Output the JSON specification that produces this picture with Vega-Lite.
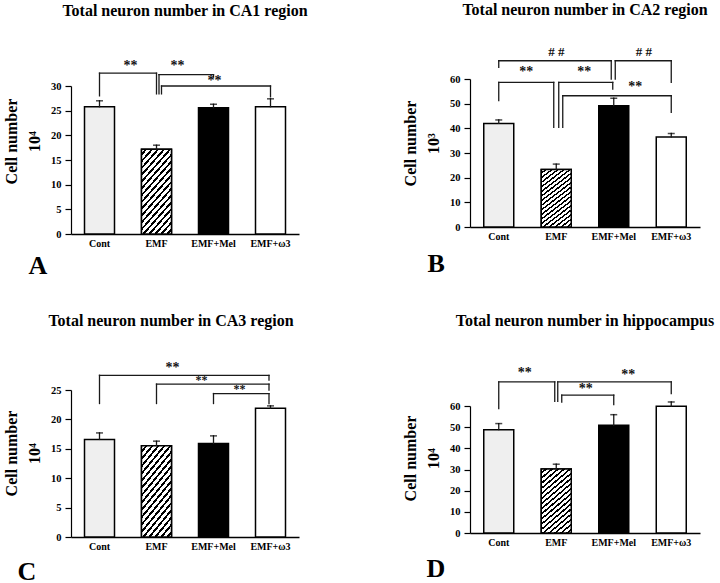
{
  "$schema": "https://vega.github.io/schema/vega-lite/v6.json",
  "padding": {"left": 3, "top": 2, "right": 2, "bottom": 0},
  "bounds": "full",
  "center": true,
  "spacing": 94,
  "hconcat": [
    {
      "bounds": "flush",
      "spacing": 156,
      "vconcat": [
        {
          "width": 228, "height": 148,
          "title": {"text": "Total neuron number in CA1 region", "offset": 40},
          "layer": [
            {
              "data": {"values": [
                {"g": "Cont", "v": 25.8, "hi": 27.0},
                {"g": "EMF", "v": 17.2, "hi": 18.0},
                {"g": "EMF+Mel", "v": 25.6, "hi": 26.3},
                {"g": "EMF+ω3", "v": 25.8, "hi": 27.4}
              ]},
              "layer": [
                {"mark": {"type": "bar", "size": 30, "stroke": "#000", "strokeWidth": 1.5},
                 "encoding": {
                   "x": {"field": "g", "type": "nominal", "scale": {"domain": ["Cont", "EMF", "EMF+Mel", "EMF+ω3"], "paddingInner": 0.48, "paddingOuter": 0.24}, "axis": {"title": "A", "titleX": -43, "titleY": 39}},
                   "y": {"field": "v", "type": "quantitative", "scale": {"domain": [0, 30], "nice": false}, "axis": {"title": ["Cell number", "10⁴"], "values": [0, 5, 10, 15, 20, 25, 30], "tickCount": 7, "titleY": 55}},
                   "fill": {"field": "g", "type": "nominal", "scale": {"domain": ["Cont", "EMF", "EMF+Mel", "EMF+ω3"], "range": ["#efefef", "#ffffff", "#000000", "#ffffff"]}, "legend": null}
                 }},
                {"transform": [{"filter": "datum.g === 'EMF'"}],
                 "mark": {"type": "bar", "size": 30, "stroke": "#000", "strokeWidth": 1.5,
                   "fill": {"gradient": "linear", "x1": 0, "y1": 0, "x2": 0.552, "y2": 1.38, "stops": [
                     {"offset": 0, "color": "#fff"}, {"offset": 0.03, "color": "#fff"}, {"offset": 0.03, "color": "#000"}, {"offset": 0.05, "color": "#000"},
                     {"offset": 0.05, "color": "#fff"}, {"offset": 0.08, "color": "#fff"}, {"offset": 0.08, "color": "#000"}, {"offset": 0.10, "color": "#000"},
                     {"offset": 0.10, "color": "#fff"}, {"offset": 0.13, "color": "#fff"}, {"offset": 0.13, "color": "#000"}, {"offset": 0.15, "color": "#000"},
                     {"offset": 0.15, "color": "#fff"}, {"offset": 0.18, "color": "#fff"}, {"offset": 0.18, "color": "#000"}, {"offset": 0.20, "color": "#000"},
                     {"offset": 0.20, "color": "#fff"}, {"offset": 0.23, "color": "#fff"}, {"offset": 0.23, "color": "#000"}, {"offset": 0.25, "color": "#000"},
                     {"offset": 0.25, "color": "#fff"}, {"offset": 0.28, "color": "#fff"}, {"offset": 0.28, "color": "#000"}, {"offset": 0.30, "color": "#000"},
                     {"offset": 0.30, "color": "#fff"}, {"offset": 0.33, "color": "#fff"}, {"offset": 0.33, "color": "#000"}, {"offset": 0.35, "color": "#000"},
                     {"offset": 0.35, "color": "#fff"}, {"offset": 0.38, "color": "#fff"}, {"offset": 0.38, "color": "#000"}, {"offset": 0.40, "color": "#000"},
                     {"offset": 0.40, "color": "#fff"}, {"offset": 0.43, "color": "#fff"}, {"offset": 0.43, "color": "#000"}, {"offset": 0.45, "color": "#000"},
                     {"offset": 0.45, "color": "#fff"}, {"offset": 0.48, "color": "#fff"}, {"offset": 0.48, "color": "#000"}, {"offset": 0.50, "color": "#000"},
                     {"offset": 0.50, "color": "#fff"}, {"offset": 0.53, "color": "#fff"}, {"offset": 0.53, "color": "#000"}, {"offset": 0.55, "color": "#000"},
                     {"offset": 0.55, "color": "#fff"}, {"offset": 0.58, "color": "#fff"}, {"offset": 0.58, "color": "#000"}, {"offset": 0.60, "color": "#000"},
                     {"offset": 0.60, "color": "#fff"}, {"offset": 0.63, "color": "#fff"}, {"offset": 0.63, "color": "#000"}, {"offset": 0.65, "color": "#000"},
                     {"offset": 0.65, "color": "#fff"}, {"offset": 0.68, "color": "#fff"}, {"offset": 0.68, "color": "#000"}, {"offset": 0.70, "color": "#000"},
                     {"offset": 0.70, "color": "#fff"}, {"offset": 0.73, "color": "#fff"}, {"offset": 0.73, "color": "#000"}, {"offset": 0.75, "color": "#000"},
                     {"offset": 0.75, "color": "#fff"}, {"offset": 0.78, "color": "#fff"}, {"offset": 0.78, "color": "#000"}, {"offset": 0.80, "color": "#000"},
                     {"offset": 0.80, "color": "#fff"}, {"offset": 0.83, "color": "#fff"}, {"offset": 0.83, "color": "#000"}, {"offset": 0.85, "color": "#000"},
                     {"offset": 0.85, "color": "#fff"}, {"offset": 0.88, "color": "#fff"}, {"offset": 0.88, "color": "#000"}, {"offset": 0.90, "color": "#000"},
                     {"offset": 0.90, "color": "#fff"}, {"offset": 0.93, "color": "#fff"}, {"offset": 0.93, "color": "#000"}, {"offset": 0.95, "color": "#000"},
                     {"offset": 0.95, "color": "#fff"}, {"offset": 0.98, "color": "#fff"}, {"offset": 0.98, "color": "#000"}, {"offset": 1, "color": "#000"}]}},
                 "encoding": {"x": {"field": "g", "type": "nominal"}, "y": {"field": "v", "type": "quantitative"}}},
                {"mark": "rule", "encoding": {"x": {"field": "g", "type": "nominal"}, "y": {"field": "v", "type": "quantitative"}, "y2": {"field": "hi"}}},
                {"mark": {"type": "tick", "size": 7, "thickness": 1.5, "color": "#000"}, "encoding": {"x": {"field": "g", "type": "nominal"}, "y": {"field": "hi", "type": "quantitative"}}}
              ]
            },
            {"data": {"values": [{"a": "Cont", "b": "EMF", "y": 32.6, "la": 28.0, "lb": 28.4, "t": "**", "sy": 34.1}]},
             "layer": [
               {"mark": {"type": "rule"}, "encoding": {"x": {"field": "a", "type": "nominal"}, "y": {"field": "la", "type": "quantitative"}, "y2": {"field": "y"}}},
               {"mark": {"type": "rule"}, "encoding": {"x": {"field": "a", "type": "nominal"}, "x2": {"field": "b"}, "y": {"field": "y", "type": "quantitative"}}},
               {"mark": {"type": "rule"}, "encoding": {"x": {"field": "b", "type": "nominal"}, "y": {"field": "lb", "type": "quantitative"}, "y2": {"field": "y"}}},
               {"mark": {"type": "text", "dx": 31}, "encoding": {"x": {"field": "a", "type": "nominal"}, "y": {"field": "sy", "type": "quantitative"}, "text": {"field": "t"}}}
             ]},
            {"data": {"values": [{"a": "EMF", "b": "EMF+Mel", "y": 32.3, "la": 28.4, "lb": 31.8, "t": "**", "sy": 34.1}]},
             "layer": [
               {"mark": {"type": "rule", "xOffset": 2.5}, "encoding": {"x": {"field": "a", "type": "nominal"}, "y": {"field": "la", "type": "quantitative"}, "y2": {"field": "y"}}},
               {"mark": {"type": "rule", "xOffset": 2.5}, "encoding": {"x": {"field": "a", "type": "nominal"}, "x2": {"field": "b"}, "y": {"field": "y", "type": "quantitative"}}},
               {"mark": {"type": "rule"}, "encoding": {"x": {"field": "b", "type": "nominal"}, "y": {"field": "lb", "type": "quantitative"}, "y2": {"field": "y"}}},
               {"mark": {"type": "text", "dx": 21}, "encoding": {"x": {"field": "a", "type": "nominal"}, "y": {"field": "sy", "type": "quantitative"}, "text": {"field": "t"}}}
             ]},
            {"data": {"values": [{"a": "EMF", "b": "EMF+ω3", "y": 30.0, "la": 28.4, "lb": 27.8, "t": "**", "sy": 31.0}]},
             "layer": [
               {"mark": {"type": "rule", "xOffset": 5}, "encoding": {"x": {"field": "a", "type": "nominal"}, "y": {"field": "la", "type": "quantitative"}, "y2": {"field": "y"}}},
               {"mark": {"type": "rule", "xOffset": 5}, "encoding": {"x": {"field": "a", "type": "nominal"}, "x2": {"field": "b"}, "y": {"field": "y", "type": "quantitative"}}},
               {"mark": {"type": "rule"}, "encoding": {"x": {"field": "b", "type": "nominal"}, "y": {"field": "lb", "type": "quantitative"}, "y2": {"field": "y"}}},
               {"mark": {"type": "text", "dx": 58}, "encoding": {"x": {"field": "a", "type": "nominal"}, "y": {"field": "sy", "type": "quantitative"}, "text": {"field": "t"}}}
             ]}
          ]
        },
        {
          "width": 228, "height": 147,
          "title": {"text": "Total neuron number in CA3 region", "offset": 32, "dx": -14},
          "layer": [
            {
              "data": {"values": [
                {"g": "Cont", "v": 16.6, "hi": 17.7},
                {"g": "EMF", "v": 15.5, "hi": 16.3},
                {"g": "EMF+Mel", "v": 15.9, "hi": 17.2},
                {"g": "EMF+ω3", "v": 21.9, "hi": 22.3}
              ]},
              "layer": [
                {"mark": {"type": "bar", "size": 30, "stroke": "#000", "strokeWidth": 1.5},
                 "encoding": {
                   "x": {"field": "g", "type": "nominal", "scale": {"domain": ["Cont", "EMF", "EMF+Mel", "EMF+ω3"], "paddingInner": 0.48, "paddingOuter": 0.24}, "axis": {"title": "C", "titleX": -54, "titleY": 42}},
                   "y": {"field": "v", "type": "quantitative", "scale": {"domain": [0, 25], "nice": false}, "axis": {"title": ["Cell number", "10⁴"], "values": [0, 5, 10, 15, 20, 25], "tickCount": 6, "titleY": 63}},
                   "fill": {"field": "g", "type": "nominal", "scale": {"domain": ["Cont", "EMF", "EMF+Mel", "EMF+ω3"], "range": ["#efefef", "#ffffff", "#000000", "#ffffff"]}, "legend": null}
                 }},
                {"transform": [{"filter": "datum.g === 'EMF'"}],
                 "mark": {"type": "bar", "size": 30, "stroke": "#000", "strokeWidth": 1.5,
                   "fill": {"gradient": "linear", "x1": 0, "y1": 0, "x2": 0.552, "y2": 1.38, "stops": [
                     {"offset": 0, "color": "#fff"}, {"offset": 0.03, "color": "#fff"}, {"offset": 0.03, "color": "#000"}, {"offset": 0.05, "color": "#000"},
                     {"offset": 0.05, "color": "#fff"}, {"offset": 0.08, "color": "#fff"}, {"offset": 0.08, "color": "#000"}, {"offset": 0.10, "color": "#000"},
                     {"offset": 0.10, "color": "#fff"}, {"offset": 0.13, "color": "#fff"}, {"offset": 0.13, "color": "#000"}, {"offset": 0.15, "color": "#000"},
                     {"offset": 0.15, "color": "#fff"}, {"offset": 0.18, "color": "#fff"}, {"offset": 0.18, "color": "#000"}, {"offset": 0.20, "color": "#000"},
                     {"offset": 0.20, "color": "#fff"}, {"offset": 0.23, "color": "#fff"}, {"offset": 0.23, "color": "#000"}, {"offset": 0.25, "color": "#000"},
                     {"offset": 0.25, "color": "#fff"}, {"offset": 0.28, "color": "#fff"}, {"offset": 0.28, "color": "#000"}, {"offset": 0.30, "color": "#000"},
                     {"offset": 0.30, "color": "#fff"}, {"offset": 0.33, "color": "#fff"}, {"offset": 0.33, "color": "#000"}, {"offset": 0.35, "color": "#000"},
                     {"offset": 0.35, "color": "#fff"}, {"offset": 0.38, "color": "#fff"}, {"offset": 0.38, "color": "#000"}, {"offset": 0.40, "color": "#000"},
                     {"offset": 0.40, "color": "#fff"}, {"offset": 0.43, "color": "#fff"}, {"offset": 0.43, "color": "#000"}, {"offset": 0.45, "color": "#000"},
                     {"offset": 0.45, "color": "#fff"}, {"offset": 0.48, "color": "#fff"}, {"offset": 0.48, "color": "#000"}, {"offset": 0.50, "color": "#000"},
                     {"offset": 0.50, "color": "#fff"}, {"offset": 0.53, "color": "#fff"}, {"offset": 0.53, "color": "#000"}, {"offset": 0.55, "color": "#000"},
                     {"offset": 0.55, "color": "#fff"}, {"offset": 0.58, "color": "#fff"}, {"offset": 0.58, "color": "#000"}, {"offset": 0.60, "color": "#000"},
                     {"offset": 0.60, "color": "#fff"}, {"offset": 0.63, "color": "#fff"}, {"offset": 0.63, "color": "#000"}, {"offset": 0.65, "color": "#000"},
                     {"offset": 0.65, "color": "#fff"}, {"offset": 0.68, "color": "#fff"}, {"offset": 0.68, "color": "#000"}, {"offset": 0.70, "color": "#000"},
                     {"offset": 0.70, "color": "#fff"}, {"offset": 0.73, "color": "#fff"}, {"offset": 0.73, "color": "#000"}, {"offset": 0.75, "color": "#000"},
                     {"offset": 0.75, "color": "#fff"}, {"offset": 0.78, "color": "#fff"}, {"offset": 0.78, "color": "#000"}, {"offset": 0.80, "color": "#000"},
                     {"offset": 0.80, "color": "#fff"}, {"offset": 0.83, "color": "#fff"}, {"offset": 0.83, "color": "#000"}, {"offset": 0.85, "color": "#000"},
                     {"offset": 0.85, "color": "#fff"}, {"offset": 0.88, "color": "#fff"}, {"offset": 0.88, "color": "#000"}, {"offset": 0.90, "color": "#000"},
                     {"offset": 0.90, "color": "#fff"}, {"offset": 0.93, "color": "#fff"}, {"offset": 0.93, "color": "#000"}, {"offset": 0.95, "color": "#000"},
                     {"offset": 0.95, "color": "#fff"}, {"offset": 0.98, "color": "#fff"}, {"offset": 0.98, "color": "#000"}, {"offset": 1, "color": "#000"}]}},
                 "encoding": {"x": {"field": "g", "type": "nominal"}, "y": {"field": "v", "type": "quantitative"}}},
                {"mark": "rule", "encoding": {"x": {"field": "g", "type": "nominal"}, "y": {"field": "v", "type": "quantitative"}, "y2": {"field": "hi"}}},
                {"mark": {"type": "tick", "size": 7, "thickness": 1.5, "color": "#000"}, "encoding": {"x": {"field": "g", "type": "nominal"}, "y": {"field": "hi", "type": "quantitative"}}}
              ]
            },
            {"data": {"values": [{"a": "Cont", "b": "EMF+ω3", "y": 27.5, "la": 22.7, "lb": 26.7, "t": "**", "sy": 28.8}]},
             "layer": [
               {"mark": {"type": "rule"}, "encoding": {"x": {"field": "a", "type": "nominal"}, "y": {"field": "la", "type": "quantitative"}, "y2": {"field": "y"}}},
               {"mark": {"type": "rule", "x2Offset": -1.5}, "encoding": {"x": {"field": "a", "type": "nominal"}, "x2": {"field": "b"}, "y": {"field": "y", "type": "quantitative"}}},
               {"mark": {"type": "rule", "xOffset": -1.5}, "encoding": {"x": {"field": "b", "type": "nominal"}, "y": {"field": "lb", "type": "quantitative"}, "y2": {"field": "y"}}},
               {"mark": {"type": "text", "dx": 73}, "encoding": {"x": {"field": "a", "type": "nominal"}, "y": {"field": "sy", "type": "quantitative"}, "text": {"field": "t"}}}
             ]},
            {"data": {"values": [{"a": "EMF", "b": "EMF+ω3", "y": 26.0, "la": 22.7, "lb": 25.0, "t": "**", "sy": 26.7}]},
             "layer": [
               {"mark": {"type": "rule"}, "encoding": {"x": {"field": "a", "type": "nominal"}, "y": {"field": "la", "type": "quantitative"}, "y2": {"field": "y"}}},
               {"mark": {"type": "rule", "x2Offset": -1.5}, "encoding": {"x": {"field": "a", "type": "nominal"}, "x2": {"field": "b"}, "y": {"field": "y", "type": "quantitative"}}},
               {"mark": {"type": "rule", "xOffset": -1.5}, "encoding": {"x": {"field": "b", "type": "nominal"}, "y": {"field": "lb", "type": "quantitative"}, "y2": {"field": "y"}}},
               {"mark": {"type": "text", "dx": 45, "fontSize": 12}, "encoding": {"x": {"field": "a", "type": "nominal"}, "y": {"field": "sy", "type": "quantitative"}, "text": {"field": "t"}}}
             ]},
            {"data": {"values": [{"a": "EMF+Mel", "b": "EMF+ω3", "y": 24.4, "la": 22.7, "lb": 22.7, "t": "**", "sy": 25.2}]},
             "layer": [
               {"mark": {"type": "rule"}, "encoding": {"x": {"field": "a", "type": "nominal"}, "y": {"field": "la", "type": "quantitative"}, "y2": {"field": "y"}}},
               {"mark": {"type": "rule", "x2Offset": -1.5}, "encoding": {"x": {"field": "a", "type": "nominal"}, "x2": {"field": "b"}, "y": {"field": "y", "type": "quantitative"}}},
               {"mark": {"type": "rule", "xOffset": -1.5}, "encoding": {"x": {"field": "b", "type": "nominal"}, "y": {"field": "lb", "type": "quantitative"}, "y2": {"field": "y"}}},
               {"mark": {"type": "text", "dx": 26, "fontSize": 12}, "encoding": {"x": {"field": "a", "type": "nominal"}, "y": {"field": "sy", "type": "quantitative"}, "text": {"field": "t"}}}
             ]}
          ]
        }
      ]
    },
    {
      "bounds": "flush",
      "spacing": 179,
      "vconcat": [
        {
          "width": 230, "height": 148,
          "title": {"text": "Total neuron number in CA2 region", "offset": 28},
          "layer": [
            {
              "data": {"values": [
                {"g": "Cont", "v": 42.0, "hi": 43.4},
                {"g": "EMF", "v": 23.3, "hi": 25.5},
                {"g": "EMF+Mel", "v": 49.2, "hi": 52.2},
                {"g": "EMF+ω3", "v": 36.5, "hi": 37.9}
              ]},
              "layer": [
                {"mark": {"type": "bar", "size": 30, "stroke": "#000", "strokeWidth": 1.5},
                 "encoding": {
                   "x": {"field": "g", "type": "nominal", "scale": {"domain": ["Cont", "EMF", "EMF+Mel", "EMF+ω3"], "paddingInner": 0.48, "paddingOuter": 0.24}, "axis": {"title": "B", "titleX": -43, "titleY": 44}},
                   "y": {"field": "v", "type": "quantitative", "scale": {"domain": [0, 60], "nice": false}, "axis": {"title": ["Cell number", "10³"], "values": [0, 10, 20, 30, 40, 50, 60], "tickCount": 7, "titleY": 64}},
                   "fill": {"field": "g", "type": "nominal", "scale": {"domain": ["Cont", "EMF", "EMF+Mel", "EMF+ω3"], "range": ["#efefef", "#ffffff", "#000000", "#ffffff"]}, "legend": null}
                 }},
                {"transform": [{"filter": "datum.g === 'EMF'"}],
                 "mark": {"type": "bar", "size": 30, "stroke": "#000", "strokeWidth": 1.5,
                   "fill": {"gradient": "linear", "x1": 0, "y1": 0, "x2": 0.552, "y2": 1.38, "stops": [
                     {"offset": 0, "color": "#fff"}, {"offset": 0.03, "color": "#fff"}, {"offset": 0.03, "color": "#000"}, {"offset": 0.05, "color": "#000"},
                     {"offset": 0.05, "color": "#fff"}, {"offset": 0.08, "color": "#fff"}, {"offset": 0.08, "color": "#000"}, {"offset": 0.10, "color": "#000"},
                     {"offset": 0.10, "color": "#fff"}, {"offset": 0.13, "color": "#fff"}, {"offset": 0.13, "color": "#000"}, {"offset": 0.15, "color": "#000"},
                     {"offset": 0.15, "color": "#fff"}, {"offset": 0.18, "color": "#fff"}, {"offset": 0.18, "color": "#000"}, {"offset": 0.20, "color": "#000"},
                     {"offset": 0.20, "color": "#fff"}, {"offset": 0.23, "color": "#fff"}, {"offset": 0.23, "color": "#000"}, {"offset": 0.25, "color": "#000"},
                     {"offset": 0.25, "color": "#fff"}, {"offset": 0.28, "color": "#fff"}, {"offset": 0.28, "color": "#000"}, {"offset": 0.30, "color": "#000"},
                     {"offset": 0.30, "color": "#fff"}, {"offset": 0.33, "color": "#fff"}, {"offset": 0.33, "color": "#000"}, {"offset": 0.35, "color": "#000"},
                     {"offset": 0.35, "color": "#fff"}, {"offset": 0.38, "color": "#fff"}, {"offset": 0.38, "color": "#000"}, {"offset": 0.40, "color": "#000"},
                     {"offset": 0.40, "color": "#fff"}, {"offset": 0.43, "color": "#fff"}, {"offset": 0.43, "color": "#000"}, {"offset": 0.45, "color": "#000"},
                     {"offset": 0.45, "color": "#fff"}, {"offset": 0.48, "color": "#fff"}, {"offset": 0.48, "color": "#000"}, {"offset": 0.50, "color": "#000"},
                     {"offset": 0.50, "color": "#fff"}, {"offset": 0.53, "color": "#fff"}, {"offset": 0.53, "color": "#000"}, {"offset": 0.55, "color": "#000"},
                     {"offset": 0.55, "color": "#fff"}, {"offset": 0.58, "color": "#fff"}, {"offset": 0.58, "color": "#000"}, {"offset": 0.60, "color": "#000"},
                     {"offset": 0.60, "color": "#fff"}, {"offset": 0.63, "color": "#fff"}, {"offset": 0.63, "color": "#000"}, {"offset": 0.65, "color": "#000"},
                     {"offset": 0.65, "color": "#fff"}, {"offset": 0.68, "color": "#fff"}, {"offset": 0.68, "color": "#000"}, {"offset": 0.70, "color": "#000"},
                     {"offset": 0.70, "color": "#fff"}, {"offset": 0.73, "color": "#fff"}, {"offset": 0.73, "color": "#000"}, {"offset": 0.75, "color": "#000"},
                     {"offset": 0.75, "color": "#fff"}, {"offset": 0.78, "color": "#fff"}, {"offset": 0.78, "color": "#000"}, {"offset": 0.80, "color": "#000"},
                     {"offset": 0.80, "color": "#fff"}, {"offset": 0.83, "color": "#fff"}, {"offset": 0.83, "color": "#000"}, {"offset": 0.85, "color": "#000"},
                     {"offset": 0.85, "color": "#fff"}, {"offset": 0.88, "color": "#fff"}, {"offset": 0.88, "color": "#000"}, {"offset": 0.90, "color": "#000"},
                     {"offset": 0.90, "color": "#fff"}, {"offset": 0.93, "color": "#fff"}, {"offset": 0.93, "color": "#000"}, {"offset": 0.95, "color": "#000"},
                     {"offset": 0.95, "color": "#fff"}, {"offset": 0.98, "color": "#fff"}, {"offset": 0.98, "color": "#000"}, {"offset": 1, "color": "#000"}]}},
                 "encoding": {"x": {"field": "g", "type": "nominal"}, "y": {"field": "v", "type": "quantitative"}}},
                {"mark": "rule", "encoding": {"x": {"field": "g", "type": "nominal"}, "y": {"field": "v", "type": "quantitative"}, "y2": {"field": "hi"}}},
                {"mark": {"type": "tick", "size": 7, "thickness": 1.5, "color": "#000"}, "encoding": {"x": {"field": "g", "type": "nominal"}, "y": {"field": "hi", "type": "quantitative"}}}
              ]
            },
            {"data": {"values": [{"a": "Cont", "b": "EMF+Mel", "y": 67.4, "la": 64.7, "lb": 60.0, "t": "# #", "sy": 70.8}]},
             "layer": [
               {"mark": {"type": "rule"}, "encoding": {"x": {"field": "a", "type": "nominal"}, "y": {"field": "la", "type": "quantitative"}, "y2": {"field": "y"}}},
               {"mark": {"type": "rule", "x2Offset": -2.5}, "encoding": {"x": {"field": "a", "type": "nominal"}, "x2": {"field": "b"}, "y": {"field": "y", "type": "quantitative"}}},
               {"mark": {"type": "rule", "xOffset": -2.5}, "encoding": {"x": {"field": "b", "type": "nominal"}, "y": {"field": "lb", "type": "quantitative"}, "y2": {"field": "y"}}},
               {"mark": {"type": "text", "dx": 57.5, "fontSize": 13}, "encoding": {"x": {"field": "a", "type": "nominal"}, "y": {"field": "sy", "type": "quantitative"}, "text": {"field": "t"}}}
             ]},
            {"data": {"values": [{"a": "EMF+Mel", "b": "EMF+ω3", "y": 67.4, "la": 60.0, "lb": 58.6, "t": "# #", "sy": 70.8}]},
             "layer": [
               {"mark": {"type": "rule", "xOffset": 1.5}, "encoding": {"x": {"field": "a", "type": "nominal"}, "y": {"field": "la", "type": "quantitative"}, "y2": {"field": "y"}}},
               {"mark": {"type": "rule", "xOffset": 1.5}, "encoding": {"x": {"field": "a", "type": "nominal"}, "x2": {"field": "b"}, "y": {"field": "y", "type": "quantitative"}}},
               {"mark": {"type": "rule"}, "encoding": {"x": {"field": "b", "type": "nominal"}, "y": {"field": "lb", "type": "quantitative"}, "y2": {"field": "y"}}},
               {"mark": {"type": "text", "dx": 30, "fontSize": 13}, "encoding": {"x": {"field": "a", "type": "nominal"}, "y": {"field": "sy", "type": "quantitative"}, "text": {"field": "t"}}}
             ]},
            {"data": {"values": [{"a": "Cont", "b": "EMF", "y": 58.6, "la": 51.2, "lb": 40.4, "t": "**", "sy": 62.9}]},
             "layer": [
               {"mark": {"type": "rule"}, "encoding": {"x": {"field": "a", "type": "nominal"}, "y": {"field": "la", "type": "quantitative"}, "y2": {"field": "y"}}},
               {"mark": {"type": "rule", "x2Offset": -2.5}, "encoding": {"x": {"field": "a", "type": "nominal"}, "x2": {"field": "b"}, "y": {"field": "y", "type": "quantitative"}}},
               {"mark": {"type": "rule", "xOffset": -2.5}, "encoding": {"x": {"field": "b", "type": "nominal"}, "y": {"field": "lb", "type": "quantitative"}, "y2": {"field": "y"}}},
               {"mark": {"type": "text", "dx": 27.5}, "encoding": {"x": {"field": "a", "type": "nominal"}, "y": {"field": "sy", "type": "quantitative"}, "text": {"field": "t"}}}
             ]},
            {"data": {"values": [{"a": "EMF", "b": "EMF+Mel", "y": 58.6, "la": 40.4, "lb": 55.9, "t": "**", "sy": 62.9}]},
             "layer": [
               {"mark": {"type": "rule", "xOffset": 2.5}, "encoding": {"x": {"field": "a", "type": "nominal"}, "y": {"field": "la", "type": "quantitative"}, "y2": {"field": "y"}}},
               {"mark": {"type": "rule", "xOffset": 2.5, "x2Offset": -1}, "encoding": {"x": {"field": "a", "type": "nominal"}, "x2": {"field": "b"}, "y": {"field": "y", "type": "quantitative"}}},
               {"mark": {"type": "rule", "xOffset": -1}, "encoding": {"x": {"field": "b", "type": "nominal"}, "y": {"field": "lb", "type": "quantitative"}, "y2": {"field": "y"}}},
               {"mark": {"type": "text", "dx": 28}, "encoding": {"x": {"field": "a", "type": "nominal"}, "y": {"field": "sy", "type": "quantitative"}, "text": {"field": "t"}}}
             ]},
            {"data": {"values": [{"a": "EMF", "b": "EMF+ω3", "y": 53.2, "la": 40.4, "lb": 46.5, "t": "**", "sy": 56.6}]},
             "layer": [
               {"mark": {"type": "rule", "xOffset": 6.5}, "encoding": {"x": {"field": "a", "type": "nominal"}, "y": {"field": "la", "type": "quantitative"}, "y2": {"field": "y"}}},
               {"mark": {"type": "rule", "xOffset": 6.5}, "encoding": {"x": {"field": "a", "type": "nominal"}, "x2": {"field": "b"}, "y": {"field": "y", "type": "quantitative"}}},
               {"mark": {"type": "rule"}, "encoding": {"x": {"field": "b", "type": "nominal"}, "y": {"field": "lb", "type": "quantitative"}, "y2": {"field": "y"}}},
               {"mark": {"type": "text", "dx": 79}, "encoding": {"x": {"field": "a", "type": "nominal"}, "y": {"field": "sy", "type": "quantitative"}, "text": {"field": "t"}}}
             ]}
          ]
        },
        {
          "width": 230, "height": 127,
          "title": {"text": "Total neuron number in hippocampus", "offset": 37},
          "layer": [
            {
              "data": {"values": [
                {"g": "Cont", "v": 48.8, "hi": 51.7},
                {"g": "EMF", "v": 30.2, "hi": 32.5},
                {"g": "EMF+Mel", "v": 50.9, "hi": 55.9},
                {"g": "EMF+ω3", "v": 59.9, "hi": 61.9}
              ]},
              "layer": [
                {"mark": {"type": "bar", "size": 30, "stroke": "#000", "strokeWidth": 1.5},
                 "encoding": {
                   "x": {"field": "g", "type": "nominal", "scale": {"domain": ["Cont", "EMF", "EMF+Mel", "EMF+ω3"], "paddingInner": 0.48, "paddingOuter": 0.24}, "axis": {"title": ["D", " "], "titleLineHeight": 10, "titleX": -44, "titleY": 43}},
                   "y": {"field": "v", "type": "quantitative", "scale": {"domain": [0, 60], "nice": false}, "axis": {"title": ["Cell number", "10⁴"], "values": [0, 10, 20, 30, 40, 50, 60], "tickCount": 7, "titleY": 52}},
                   "fill": {"field": "g", "type": "nominal", "scale": {"domain": ["Cont", "EMF", "EMF+Mel", "EMF+ω3"], "range": ["#efefef", "#ffffff", "#000000", "#ffffff"]}, "legend": null}
                 }},
                {"transform": [{"filter": "datum.g === 'EMF'"}],
                 "mark": {"type": "bar", "size": 30, "stroke": "#000", "strokeWidth": 1.5,
                   "fill": {"gradient": "linear", "x1": 0, "y1": 0, "x2": 0.552, "y2": 1.38, "stops": [
                     {"offset": 0, "color": "#fff"}, {"offset": 0.03, "color": "#fff"}, {"offset": 0.03, "color": "#000"}, {"offset": 0.05, "color": "#000"},
                     {"offset": 0.05, "color": "#fff"}, {"offset": 0.08, "color": "#fff"}, {"offset": 0.08, "color": "#000"}, {"offset": 0.10, "color": "#000"},
                     {"offset": 0.10, "color": "#fff"}, {"offset": 0.13, "color": "#fff"}, {"offset": 0.13, "color": "#000"}, {"offset": 0.15, "color": "#000"},
                     {"offset": 0.15, "color": "#fff"}, {"offset": 0.18, "color": "#fff"}, {"offset": 0.18, "color": "#000"}, {"offset": 0.20, "color": "#000"},
                     {"offset": 0.20, "color": "#fff"}, {"offset": 0.23, "color": "#fff"}, {"offset": 0.23, "color": "#000"}, {"offset": 0.25, "color": "#000"},
                     {"offset": 0.25, "color": "#fff"}, {"offset": 0.28, "color": "#fff"}, {"offset": 0.28, "color": "#000"}, {"offset": 0.30, "color": "#000"},
                     {"offset": 0.30, "color": "#fff"}, {"offset": 0.33, "color": "#fff"}, {"offset": 0.33, "color": "#000"}, {"offset": 0.35, "color": "#000"},
                     {"offset": 0.35, "color": "#fff"}, {"offset": 0.38, "color": "#fff"}, {"offset": 0.38, "color": "#000"}, {"offset": 0.40, "color": "#000"},
                     {"offset": 0.40, "color": "#fff"}, {"offset": 0.43, "color": "#fff"}, {"offset": 0.43, "color": "#000"}, {"offset": 0.45, "color": "#000"},
                     {"offset": 0.45, "color": "#fff"}, {"offset": 0.48, "color": "#fff"}, {"offset": 0.48, "color": "#000"}, {"offset": 0.50, "color": "#000"},
                     {"offset": 0.50, "color": "#fff"}, {"offset": 0.53, "color": "#fff"}, {"offset": 0.53, "color": "#000"}, {"offset": 0.55, "color": "#000"},
                     {"offset": 0.55, "color": "#fff"}, {"offset": 0.58, "color": "#fff"}, {"offset": 0.58, "color": "#000"}, {"offset": 0.60, "color": "#000"},
                     {"offset": 0.60, "color": "#fff"}, {"offset": 0.63, "color": "#fff"}, {"offset": 0.63, "color": "#000"}, {"offset": 0.65, "color": "#000"},
                     {"offset": 0.65, "color": "#fff"}, {"offset": 0.68, "color": "#fff"}, {"offset": 0.68, "color": "#000"}, {"offset": 0.70, "color": "#000"},
                     {"offset": 0.70, "color": "#fff"}, {"offset": 0.73, "color": "#fff"}, {"offset": 0.73, "color": "#000"}, {"offset": 0.75, "color": "#000"},
                     {"offset": 0.75, "color": "#fff"}, {"offset": 0.78, "color": "#fff"}, {"offset": 0.78, "color": "#000"}, {"offset": 0.80, "color": "#000"},
                     {"offset": 0.80, "color": "#fff"}, {"offset": 0.83, "color": "#fff"}, {"offset": 0.83, "color": "#000"}, {"offset": 0.85, "color": "#000"},
                     {"offset": 0.85, "color": "#fff"}, {"offset": 0.88, "color": "#fff"}, {"offset": 0.88, "color": "#000"}, {"offset": 0.90, "color": "#000"},
                     {"offset": 0.90, "color": "#fff"}, {"offset": 0.93, "color": "#fff"}, {"offset": 0.93, "color": "#000"}, {"offset": 0.95, "color": "#000"},
                     {"offset": 0.95, "color": "#fff"}, {"offset": 0.98, "color": "#fff"}, {"offset": 0.98, "color": "#000"}, {"offset": 1, "color": "#000"}]}},
                 "encoding": {"x": {"field": "g", "type": "nominal"}, "y": {"field": "v", "type": "quantitative"}}},
                {"mark": "rule", "encoding": {"x": {"field": "g", "type": "nominal"}, "y": {"field": "v", "type": "quantitative"}, "y2": {"field": "hi"}}},
                {"mark": {"type": "tick", "size": 7, "thickness": 1.5, "color": "#000"}, "encoding": {"x": {"field": "g", "type": "nominal"}, "y": {"field": "hi", "type": "quantitative"}}}
              ]
            },
            {"data": {"values": [{"a": "Cont", "b": "EMF", "y": 71.4, "la": 58.8, "lb": 62.2, "t": "**", "sy": 75.4}]},
             "layer": [
               {"mark": {"type": "rule"}, "encoding": {"x": {"field": "a", "type": "nominal"}, "y": {"field": "la", "type": "quantitative"}, "y2": {"field": "y"}}},
               {"mark": {"type": "rule", "x2Offset": -1.5}, "encoding": {"x": {"field": "a", "type": "nominal"}, "x2": {"field": "b"}, "y": {"field": "y", "type": "quantitative"}}},
               {"mark": {"type": "rule", "xOffset": -1.5}, "encoding": {"x": {"field": "b", "type": "nominal"}, "y": {"field": "lb", "type": "quantitative"}, "y2": {"field": "y"}}},
               {"mark": {"type": "text", "dx": 26}, "encoding": {"x": {"field": "a", "type": "nominal"}, "y": {"field": "sy", "type": "quantitative"}, "text": {"field": "t"}}}
             ]},
            {"data": {"values": [{"a": "EMF", "b": "EMF+ω3", "y": 71.4, "la": 62.2, "lb": 65.9, "t": "**", "sy": 74.5}]},
             "layer": [
               {"mark": {"type": "rule", "xOffset": 1.5}, "encoding": {"x": {"field": "a", "type": "nominal"}, "y": {"field": "la", "type": "quantitative"}, "y2": {"field": "y"}}},
               {"mark": {"type": "rule", "xOffset": 1.5}, "encoding": {"x": {"field": "a", "type": "nominal"}, "x2": {"field": "b"}, "y": {"field": "y", "type": "quantitative"}}},
               {"mark": {"type": "rule"}, "encoding": {"x": {"field": "b", "type": "nominal"}, "y": {"field": "lb", "type": "quantitative"}, "y2": {"field": "y"}}},
               {"mark": {"type": "text", "dx": 72}, "encoding": {"x": {"field": "a", "type": "nominal"}, "y": {"field": "sy", "type": "quantitative"}, "text": {"field": "t"}}}
             ]},
            {"data": {"values": [{"a": "EMF", "b": "EMF+Mel", "y": 65.1, "la": 61.9, "lb": 60.7, "t": "**", "sy": 67.9}]},
             "layer": [
               {"mark": {"type": "rule", "xOffset": 5.5}, "encoding": {"x": {"field": "a", "type": "nominal"}, "y": {"field": "la", "type": "quantitative"}, "y2": {"field": "y"}}},
               {"mark": {"type": "rule", "xOffset": 5.5}, "encoding": {"x": {"field": "a", "type": "nominal"}, "x2": {"field": "b"}, "y": {"field": "y", "type": "quantitative"}}},
               {"mark": {"type": "rule"}, "encoding": {"x": {"field": "b", "type": "nominal"}, "y": {"field": "lb", "type": "quantitative"}, "y2": {"field": "y"}}},
               {"mark": {"type": "text", "dx": 29.5}, "encoding": {"x": {"field": "a", "type": "nominal"}, "y": {"field": "sy", "type": "quantitative"}, "text": {"field": "t"}}}
             ]}
          ]
        }
      ]
    }
  ],
  "config": {
    "font": "Liberation Serif",
    "background": "#ffffff",
    "view": {"stroke": null},
    "title": {"font": "Liberation Serif", "fontSize": 16, "fontWeight": "bold", "color": "#000", "frame": "group", "anchor": "middle"},
    "axis": {"grid": false, "labelFont": "Liberation Serif", "labelFontWeight": "bold", "labelColor": "#000", "domainColor": "#000", "tickColor": "#000", "titleFont": "Liberation Serif", "titleFontWeight": "bold", "titleColor": "#000"},
    "axisY": {"labelFontSize": 10.5, "labelOverlap": false, "tickCount": 7, "tickSize": 6, "tickWidth": 1.2, "labelPadding": 4, "domainWidth": 1.2, "titleFontSize": 16, "titlePadding": 8, "titleLineHeight": 23},
    "axisX": {"labelFontSize": 10, "labelAngle": 0, "ticks": false, "labelPadding": 4, "domainWidth": 1.5, "titleFontSize": 26, "titleAlign": "left", "titleBaseline": "alphabetic", "titleAnchor": "start"},
    "rule": {"color": "#1a1a1a", "strokeWidth": 1.3, "strokeCap": "square"},
    "text": {"font": "Liberation Serif", "fontSize": 14, "fontWeight": "bold", "baseline": "middle", "align": "center", "color": "#111"}
  }
}
